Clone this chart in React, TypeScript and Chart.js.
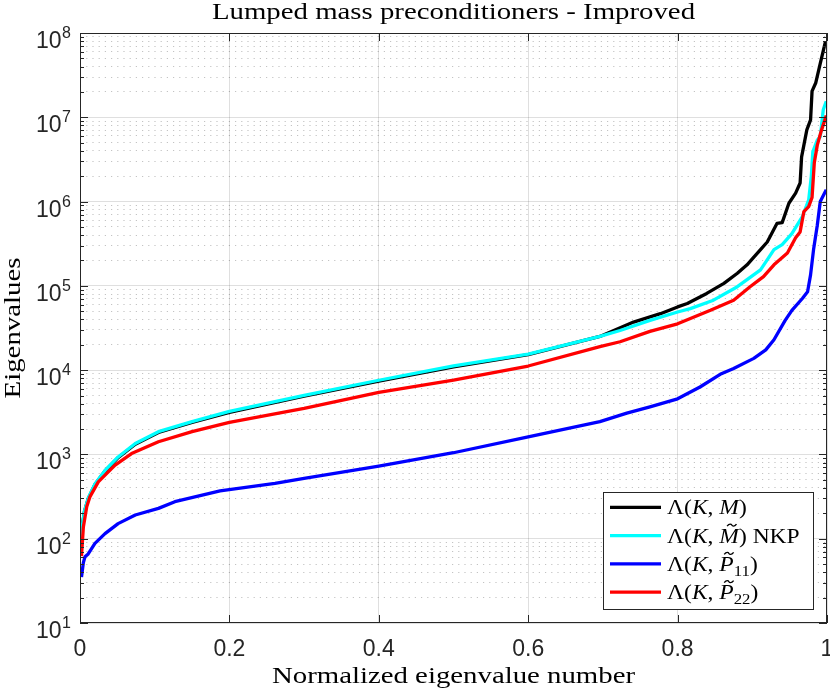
import { useEffect, useRef } from 'react'
import { Chart, registerables } from 'chart.js'

Chart.register(...registerables)

const chartTitle = 'Lumped mass preconditioners - Improved'
const xAxisLabel = 'Normalized eigenvalue number'
const yAxisLabel = 'Eigenvalues'

const xTickValues = [0, 0.2, 0.4, 0.6, 0.8, 1]
const xTickLabels = ['0', '0.2', '0.4', '0.6', '0.8', '1']
const yTickExponents = [1, 2, 3, 4, 5, 6, 7, 8]

// [normalized index, eigenvalue]
const eigKM: [number, number][] = [
  [0.001, 80], [0.003, 141], [0.006, 212], [0.011, 298], [0.02, 440], [0.0335, 636],
  [0.051, 915], [0.074, 1320], [0.105, 1820], [0.15, 2400], [0.2, 3160], [0.3, 4900],
  [0.4, 7400], [0.5, 10960], [0.6, 15300], [0.696, 25100], [0.741, 37150], [0.777, 46770],
  [0.8, 56230], [0.813, 61660], [0.839, 81280], [0.862, 107150], [0.88, 141250],
  [0.893, 177830], [0.9, 208930], [0.911, 269150], [0.92, 331130], [0.933, 549540],
  [0.94, 562340], [0.949, 955000], [0.958, 1258900], [0.964, 1659600], [0.966, 3388400],
  [0.973, 7079500], [0.978, 9332500], [0.98, 20417000], [0.985, 25704000],
  [0.991, 43652000], [0.998, 79433000],
]

const eigKMtilde: [number, number][] = [
  [0.001, 80], [0.003, 141], [0.006, 214], [0.011, 302], [0.02, 447], [0.0335, 646],
  [0.051, 933], [0.074, 1349], [0.105, 1862], [0.15, 2455], [0.2, 3236], [0.3, 5012],
  [0.4, 7586], [0.5, 11220], [0.6, 15490], [0.696, 25120], [0.723, 29510], [0.763, 38900],
  [0.8, 48980], [0.817, 53700], [0.848, 67610], [0.88, 97720], [0.911, 154900],
  [0.929, 269200], [0.94, 309000], [0.953, 416900], [0.967, 660700], [0.9755, 1047000],
  [0.979, 1995000], [0.981, 3890000], [0.987, 5370000], [0.991, 5888000],
  [0.995, 12300000], [0.999, 15490000],
]

const eigKP11: [number, number][] = [
  [0.002, 35], [0.0045, 52], [0.0067, 61], [0.011, 66], [0.02, 88], [0.0335, 115],
  [0.051, 151], [0.074, 191], [0.105, 229], [0.127, 275], [0.1875, 370], [0.261, 453],
  [0.3, 519], [0.4, 726], [0.5, 1047], [0.6, 1618], [0.696, 2455], [0.732, 3090],
  [0.763, 3673], [0.8, 4571], [0.83, 6310], [0.857, 8913], [0.875, 10470], [0.902, 13800],
  [0.918, 17380], [0.929, 22910], [0.944, 38900], [0.953, 51290], [0.967, 70800],
  [0.974, 85110], [0.978, 134900], [0.982, 269200], [0.987, 524800], [0.991, 1000000],
  [0.999, 1380000],
]

const eigKP22: [number, number][] = [
  [0.002, 62], [0.0045, 138], [0.009, 240], [0.0134, 316], [0.0245, 473], [0.0335, 569],
  [0.047, 746], [0.069, 1023], [0.105, 1413], [0.15, 1862], [0.2, 2399], [0.3, 3516],
  [0.4, 5445], [0.5, 7621], [0.6, 11190], [0.696, 19050], [0.723, 21730], [0.763, 28840],
  [0.8, 35480], [0.844, 51290], [0.875, 67610], [0.897, 97720], [0.915, 128800],
  [0.929, 177800], [0.947, 245500], [0.958, 371500], [0.964, 436500], [0.969, 758600],
  [0.9755, 871000], [0.98, 1122000], [0.983, 2884000], [0.987, 4677000],
  [0.992, 6761000], [0.999, 10470000],
]

type Part = { text: string, italic?: boolean, sub?: boolean, tilde?: boolean }

const legendLabels: Part[][] = [
  [{ text: 'Λ(' }, { text: 'K', italic: true }, { text: ', ' }, { text: 'M', italic: true }, { text: ')' }],
  [{ text: 'Λ(' }, { text: 'K', italic: true }, { text: ', ' }, { text: 'M', italic: true, tilde: true }, { text: ') NKP' }],
  [{ text: 'Λ(' }, { text: 'K', italic: true }, { text: ', ' }, { text: 'P', italic: true, tilde: true }, { text: '11', sub: true }, { text: ')' }],
  [{ text: 'Λ(' }, { text: 'K', italic: true }, { text: ', ' }, { text: 'P', italic: true, tilde: true }, { text: '22', sub: true }, { text: ')' }],
]

const series = [
  { data: eigKM, color: '#000000', order: 4 },
  { data: eigKMtilde, color: '#00ffff', order: 3 },
  { data: eigKP11, color: '#0000ff', order: 2 },
  { data: eigKP22, color: '#ff0000', order: 1 },
]

const yTickValues: number[] = []
yTickExponents.forEach((e, i) => {
  const last = i === yTickExponents.length - 1
  for (let s = 1; s <= (last ? 1 : 9); s++) yTickValues.push(s * Math.pow(10, e))
})

const isDecade = (v: number) => Math.abs(Math.log10(v) - Math.round(Math.log10(v))) < 1e-9

const AXIS_COLOR = '#262626'
const MAJOR_GRID = 'rgba(38,38,38,0.15)'
const MINOR_GRID = 'rgba(38,38,38,0.28)'
const SERIF = '"Liberation Serif", "Times New Roman", serif'
const SANS = '"Liberation Sans", Arial, Helvetica, sans-serif'

function drawStretched(ctx: CanvasRenderingContext2D, text: string, x: number, y: number, font: string, sx: number) {
  ctx.save()
  ctx.translate(x, y)
  ctx.scale(sx, 1)
  ctx.font = font
  ctx.textAlign = 'center'
  ctx.textBaseline = 'alphabetic'
  ctx.fillText(text, 0, 0)
  ctx.restore()
}

function drawTilde(ctx: CanvasRenderingContext2D, cx: number, cy: number, hw: number) {
  ctx.save()
  ctx.beginPath()
  ctx.moveTo(cx - hw, cy + 1)
  ctx.bezierCurveTo(cx - hw * 0.5, cy - 2, cx - hw * 0.1, cy - 1, cx, cy)
  ctx.bezierCurveTo(cx + hw * 0.1, cy + 1, cx + hw * 0.5, cy + 2, cx + hw, cy - 1)
  ctx.lineWidth = 1.2
  ctx.strokeStyle = '#000'
  ctx.stroke()
  ctx.restore()
}

function drawRich(ctx: CanvasRenderingContext2D, parts: Part[], x: number, baseline: number) {
  ctx.save()
  ctx.translate(x, baseline)
  ctx.scale(1.12, 1)
  ctx.fillStyle = '#000'
  ctx.textAlign = 'left'
  ctx.textBaseline = 'alphabetic'
  let cx = 0
  for (const p of parts) {
    const size = p.sub ? 15 : 21
    ctx.font = `${p.italic ? 'italic ' : ''}${size}px ${SERIF}`
    ctx.fillText(p.text, cx, p.sub ? 5 : 0)
    const w = ctx.measureText(p.text).width
    if (p.tilde) drawTilde(ctx, cx + w * 0.55 + 1.5, -17.5, 4.2)
    cx += w
  }
  ctx.restore()
}

const matlabAxes = {
  id: 'matlabAxes',
  afterDraw(chart: Chart) {
    const { ctx, chartArea } = chart
    const { left, right, top, bottom } = chartArea
    const xs = chart.scales.x
    const ys = chart.scales.y
    ctx.save()

    // box and inward ticks
    ctx.strokeStyle = AXIS_COLOR
    ctx.lineWidth = 1
    ctx.strokeRect(left + 0.5, top + 0.5, right - left - 1, bottom - top - 1)
    ctx.beginPath()
    yTickValues.forEach(v => {
      const py = Math.round(ys.getPixelForValue(v)) + 0.5
      const len = isDecade(v) ? 8 : 4
      ctx.moveTo(left, py); ctx.lineTo(left + len, py)
      ctx.moveTo(right, py); ctx.lineTo(right - len, py)
    })
    xTickValues.forEach(v => {
      const px = Math.round(xs.getPixelForValue(v)) + 0.5
      ctx.moveTo(px, bottom); ctx.lineTo(px, bottom - 8)
      ctx.moveTo(px, top); ctx.lineTo(px, top + 8)
    })
    ctx.stroke()

    // tick labels
    ctx.fillStyle = AXIS_COLOR
    ctx.textBaseline = 'alphabetic'
    yTickExponents.forEach(e => {
      const py = ys.getPixelForValue(Math.pow(10, e))
      ctx.font = `16px ${SANS}`
      ctx.textAlign = 'left'
      ctx.fillText(String(e), 62, py + 5)
      ctx.font = `23px ${SANS}`
      ctx.textAlign = 'right'
      ctx.fillText('10', 61.5, py + 15)
    })
    ctx.font = `23px ${SANS}`
    ctx.textAlign = 'center'
    xTickValues.forEach((v, i) => {
      ctx.fillText(xTickLabels[i], xs.getPixelForValue(v), 656)
    })

    // title and axis labels
    ctx.fillStyle = '#000'
    const cx = (left + right) / 2
    drawStretched(ctx, chartTitle, cx, 18.5, `24px ${SERIF}`, 1.2)
    drawStretched(ctx, xAxisLabel, cx, 683, `24px ${SERIF}`, 1.2)
    ctx.save()
    ctx.translate(20, (top + bottom) / 2)
    ctx.rotate(-Math.PI / 2)
    drawStretched(ctx, yAxisLabel, 0, 0, `24px ${SERIF}`, 1.2)
    ctx.restore()

    // legend
    const bx = 603, by = 492, bw = 210, bh = 117
    ctx.fillStyle = '#ffffff'
    ctx.fillRect(bx, by, bw, bh)
    ctx.strokeStyle = AXIS_COLOR
    ctx.lineWidth = 1
    ctx.strokeRect(bx + 0.5, by + 0.5, bw, bh)
    legendLabels.forEach((parts, i) => {
      const ry = 507.3 + i * 28.3
      ctx.beginPath()
      ctx.moveTo(610, ry)
      ctx.lineTo(661, ry)
      ctx.strokeStyle = series[i].color
      ctx.lineWidth = 3.3
      ctx.stroke()
      drawRich(ctx, parts, 667, ry + 7)
    })

    ctx.restore()
  },
}

export default function App() {
  const canvasRef = useRef<HTMLCanvasElement>(null)

  useEffect(() => {
    if (!canvasRef.current) return

    const chart = new Chart(canvasRef.current, {
      type: 'line',
      data: {
        datasets: series.map(s => ({
          data: s.data.map(([x, y]) => ({ x, y })),
          borderColor: s.color,
          backgroundColor: s.color,
          borderWidth: 3.3,
          pointRadius: 0,
          tension: 0,
          fill: false,
          order: s.order,
          borderJoinStyle: 'round' as const,
        })),
      },
      options: {
        animation: false,
        responsive: true,
        maintainAspectRatio: false,
        layout: { padding: { top: 33, right: 3, left: 0, bottom: 0 } },
        plugins: {
          legend: { display: false },
          title: { display: false },
          tooltip: { enabled: false },
        },
        scales: {
          x: {
            type: 'linear',
            min: 0,
            max: 1,
            afterBuildTicks: (scale: any) => {
              scale.ticks = xTickValues.map(v => ({ value: v }))
            },
            afterFit: (scale: any) => { scale.height = 70 },
            ticks: { display: false },
            grid: { drawTicks: false, color: MAJOR_GRID, lineWidth: 1 },
            border: { display: false },
          },
          y: {
            type: 'logarithmic',
            min: 10,
            max: 1e8,
            afterBuildTicks: (scale: any) => {
              scale.ticks = yTickValues.map(v => ({ value: v, major: isDecade(v) }))
            },
            afterFit: (scale: any) => { scale.width = 80 },
            ticks: { display: false },
            grid: {
              drawTicks: false,
              lineWidth: 1,
              color: (c: any) => (c.tick && isDecade(c.tick.value) ? MAJOR_GRID : MINOR_GRID),
            },
            border: {
              display: false,
              dash: (c: any) => (c.tick && isDecade(c.tick.value) ? [] : [1.2, 5]),
            },
          },
        },
      },
      plugins: [matlabAxes],
    })

    return () => chart.destroy()
  }, [])

  return (
    <div style={{ position: 'fixed', left: 0, top: 0, width: 830, height: 693, background: '#ffffff' }}>
      <canvas ref={canvasRef} />
    </div>
  )
}
